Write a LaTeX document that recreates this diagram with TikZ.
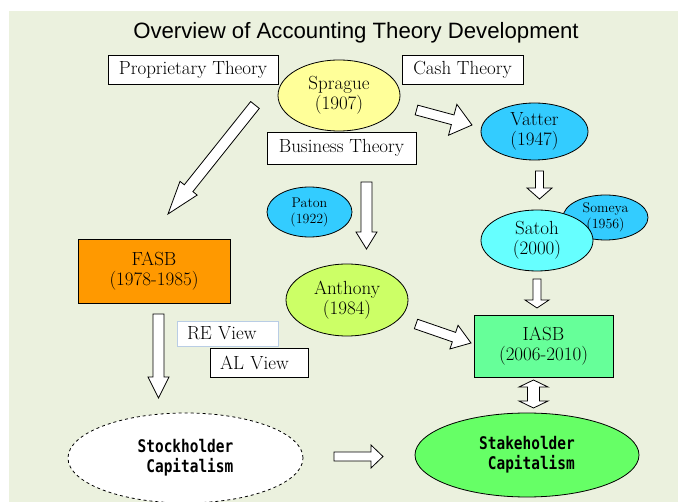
\documentclass[tikz,border=0pt]{standalone}
\usepackage{fontspec}
\newfontfamily\titlefont{Liberation Sans}
\newfontfamily\gothicfont[FakeStretch=0.83]{DejaVu Sans Mono}
\usetikzlibrary{shapes.geometric,calc}
\definecolor{bgcol}{HTML}{EBF1DE}
\definecolor{spragueyellow}{HTML}{FFFF99}
\definecolor{skyblue}{HTML}{33CCFF}
\definecolor{satohcyan}{HTML}{66FFFF}
\definecolor{fasborange}{HTML}{FF9900}
\definecolor{anthonylime}{HTML}{CCFF66}
\definecolor{iasbgreen}{HTML}{66FF99}
\definecolor{stakegreen}{HTML}{66FF66}
\definecolor{reblue}{HTML}{B9CDE5}
% hollow block arrow: tail, tip, shaft, head width, head length
\newcommand{\hollowarrow}[5]{%
  \coordinate (ha) at ($(#2)!#5pt!(#1)$);
  \draw[hollow] ($(#1)!#3pt/2!90:(#2)$) -- ($(ha)!#3pt/2!90:(#2)$) -- ($(ha)!#4pt/2!90:(#2)$) -- (#2)
    -- ($(ha)!#4pt/2!-90:(#2)$) -- ($(ha)!#3pt/2!-90:(#2)$) -- ($(#1)!#3pt/2!-90:(#2)$) -- cycle;}
\newcommand{\hollowdouble}[5]{%
  \coordinate (hd1) at ($(#1)!#5pt!(#2)$);
  \coordinate (hd2) at ($(#2)!#5pt!(#1)$);
  \draw[hollow] (#1) -- ($(hd1)!#4pt/2!90:(#2)$) -- ($(hd1)!#3pt/2!90:(#2)$) -- ($(hd2)!#3pt/2!90:(#2)$)
    -- ($(hd2)!#4pt/2!90:(#2)$) -- (#2) -- ($(hd2)!#4pt/2!-90:(#2)$) -- ($(hd2)!#3pt/2!-90:(#2)$)
    -- ($(hd1)!#3pt/2!-90:(#2)$) -- ($(hd1)!#4pt/2!-90:(#2)$) -- cycle;}
\begin{document}
\begin{tikzpicture}[x=1pt,y=-1pt,line width=0.8pt,
  box/.style={draw,fill=white,rectangle,inner sep=0pt,align=center,font=\fontsize{19}{20}\selectfont},
  bubble/.style={draw,ellipse,inner sep=0pt,align=center,font=\fontsize{19}{20}\selectfont},
  small/.style={font=\fontsize{14}{16}\selectfont},
  capital/.style={draw,ellipse,inner sep=0pt,align=left,font=\gothicfont\bfseries\fontsize{17.4}{20}\selectfont},
  hollow/.style={draw,fill=white,line width=0.8pt,line join=miter}]
\useasboundingbox (0,0) rectangle (678,502);
\fill[bgcol] (9,11) rectangle (678,502);
\node (title) at (356,33) {\titlefont\fontsize{22.2}{25}\selectfont Overview of Accounting Theory Development};
% theories and authors
\node[box,minimum width=170pt,minimum height=29pt] (prop) at (193,69.5) {Proprietary Theory};
\node[box,minimum width=121pt,minimum height=29pt] (cash) at (462.5,69.5) {Cash Theory};
\node[bubble,fill=spragueyellow,minimum width=122pt,minimum height=71pt] (sprague) at (339,95.5) {Sprague\\(1907)};
\node[box,minimum width=149pt,minimum height=32pt] (business) at (341.5,148) {Business Theory};
\node[bubble,fill=skyblue,minimum width=107pt,minimum height=57pt] (vatter) at (534.5,131.5) {Vatter\\(1947)};
\node[bubble,small,fill=skyblue,minimum width=85pt,minimum height=50pt] (paton) at (309.5,212) {Paton\\(1922)};
\node[bubble,small,fill=skyblue,minimum width=85pt,minimum height=45pt] (someya) at (605.5,217.5) {Someya\\(1956)};
\node[bubble,fill=satohcyan,minimum width=112pt,minimum height=61pt] (satoh) at (537,240.5) {Satoh\\(2000)};
\node[box,fill=fasborange,minimum width=152pt,minimum height=64pt] (fasb) at (154,271) {FASB\\(1978-1985)};
\node[bubble,fill=anthonylime,minimum width=122pt,minimum height=72pt] (anthony) at (347,300) {Anthony\\(1984)};
\node[box,fill=iasbgreen,minimum width=139pt,minimum height=62pt] (iasb) at (543.5,346) {IASB\\(2006-2010)};
\node[box,draw=reblue,align=left,text width=81pt,minimum width=101pt,minimum height=25pt] (re) at (227.5,333.5) {RE View};
\node[box,align=left,text width=78pt,minimum width=98pt,minimum height=29pt] (al) at (259,362.5) {AL View};
\node[capital,dashed,fill=white,minimum width=235pt,minimum height=90pt] (stock) at (185.5,458) {Stockholder\\\hphantom{S}Capitalism};
\node[capital,fill=stakegreen,minimum width=224pt,minimum height=84pt] (stake) at (527,455) {Stakeholder\\\hphantom{S}Capitalism};
% arrow ends
\coordinate (propT) at (255,105);   \coordinate (propH) at (168,214);
\coordinate (spraT) at (416.5,110); \coordinate (spraH) at (472,125);
\coordinate (busT) at (366.5,182);  \coordinate (busH) at (366.5,249);
\coordinate (vatT) at (539.5,171);  \coordinate (vatH) at (539.5,199);
\coordinate (satT) at (537,279);    \coordinate (satH) at (537,308);
\coordinate (fasbT) at (158.5,314); \coordinate (fasbH) at (158.5,398);
\coordinate (anthT) at (416,324);   \coordinate (anthH) at (471,343);
\coordinate (stockT) at (334,456.5); \coordinate (stockH) at (383,456.5);
\coordinate (iasbE) at (533.5,380); \coordinate (stakeE) at (533.5,408);
\foreach \u/\v/\s/\w/\l in {propT/propH/11/22/33,spraT/spraH/10/32/20,busT/busH/11/21/17,vatT/vatH/8/25/11,
    satT/satH/8/24/8,fasbT/fasbH/11/21/21,anthT/anthH/10/25/18,stockT/stockH/9/23/12}
  {\hollowarrow{\u}{\v}{\s}{\w}{\l}}
\hollowdouble{iasbE}{stakeE}{12}{29}{7}
\end{tikzpicture}
\end{document}
